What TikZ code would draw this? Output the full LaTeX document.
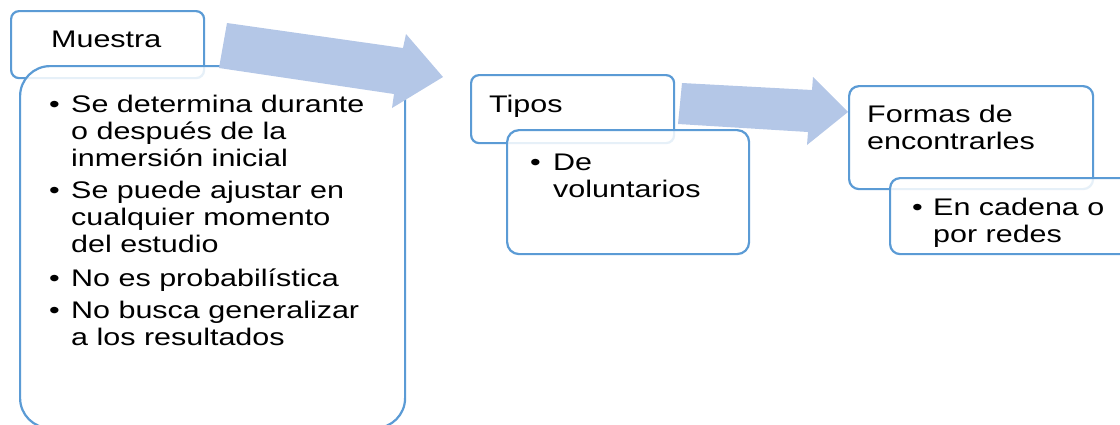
\documentclass[tikz,border=0pt]{standalone}
\usepackage{fontspec}
\setmainfont{Liberation Sans}[FakeStretch=1.27]
\definecolor{bord}{RGB}{91,155,213}
\definecolor{arr}{RGB}{180,199,231}
\newcommand{\mlines}[1]{\vtop{\baselineskip=27.3pt\lineskiplimit=-30pt\halign{##\hfil\cr#1\crcr}}}
\begin{document}
\begin{tikzpicture}[x=1pt,y=-1pt,font=\fontsize{24}{27.3}\selectfont,
  title/.style={draw=bord,line width=2.2pt,fill=white,rounded corners=8pt,inner sep=0pt,anchor=north west},
  body/.style={draw=bord,line width=2.2pt,fill=white,fill opacity=0.85,inner sep=0pt,anchor=north west},
  txt/.style={anchor=base west,inner sep=0pt,text=black},
  blockarrow/.style={fill=arr,draw=none}]
\useasboundingbox (0,0) rectangle (1120,424);
\clip (0,0) rectangle (1120,424);
% title and body boxes
\node[title,minimum width=193pt,minimum height=67pt] (mt) at (10,10) {};
\node[body,rounded corners=30pt,minimum width=385pt,minimum height=362pt] (mb) at (19,65) {};
\node[title,minimum width=203pt,minimum height=68pt] (tt) at (470,74) {};
\node[body,rounded corners=12pt,minimum width=242pt,minimum height=124pt] (tb) at (506,129) {};
\node[title,rounded corners=10pt,minimum width=244pt,minimum height=103pt] (ft) at (848,85) {};
\node[body,rounded corners=10pt,minimum width=260pt,minimum height=76pt] (fb) at (889,177) {};
% texts
\node[txt] (mtx) at (51,47) {Muestra};
\node[txt] (mb1) at (49,112) {•};
\node[txt] (mt1) at (71,112) {\mlines{Se determina durante\cr o después de la\cr inmersión inicial}};
\node[txt] (mb2) at (49,198) {•};
\node[txt] (mt2) at (71,198) {\mlines{Se puede ajustar en\cr cualquier momento\cr del estudio}};
\node[txt] (mb3) at (49,286) {•};
\node[txt] (mt3) at (71,286) {No es probabilística};
\node[txt] (mb4) at (49,318) {•};
\node[txt] (mt4) at (71,318) {\mlines{No busca generalizar\cr a los resultados}};
\node[txt] (ttx) at (489,112) {Tipos};
\node[txt] (tb1) at (530,170) {•};
\node[txt] (tt1) at (553,170) {\mlines{De\cr voluntarios}};
\node[txt] (ftx) at (867,122) {\mlines{Formas de\cr encontrarles}};
\node[txt] (fb1) at (912,215) {•};
\node[txt] (ft1) at (933,215) {\mlines{En cadena o\cr por redes}};
% block arrows
\coordinate (a1s) at (227,23);
\fill[blockarrow] (a1s) -- (403,48) -- (406,34) -- (443,77) -- (392,108) -- (394,94) -- (219,68) -- cycle;
\coordinate (a2s) at (682,83);
\fill[blockarrow] (a2s) -- (812,90) -- (813,77) -- (848,112) -- (807,145) -- (808,132) -- (678,124) -- cycle;
\end{tikzpicture}
\end{document}
